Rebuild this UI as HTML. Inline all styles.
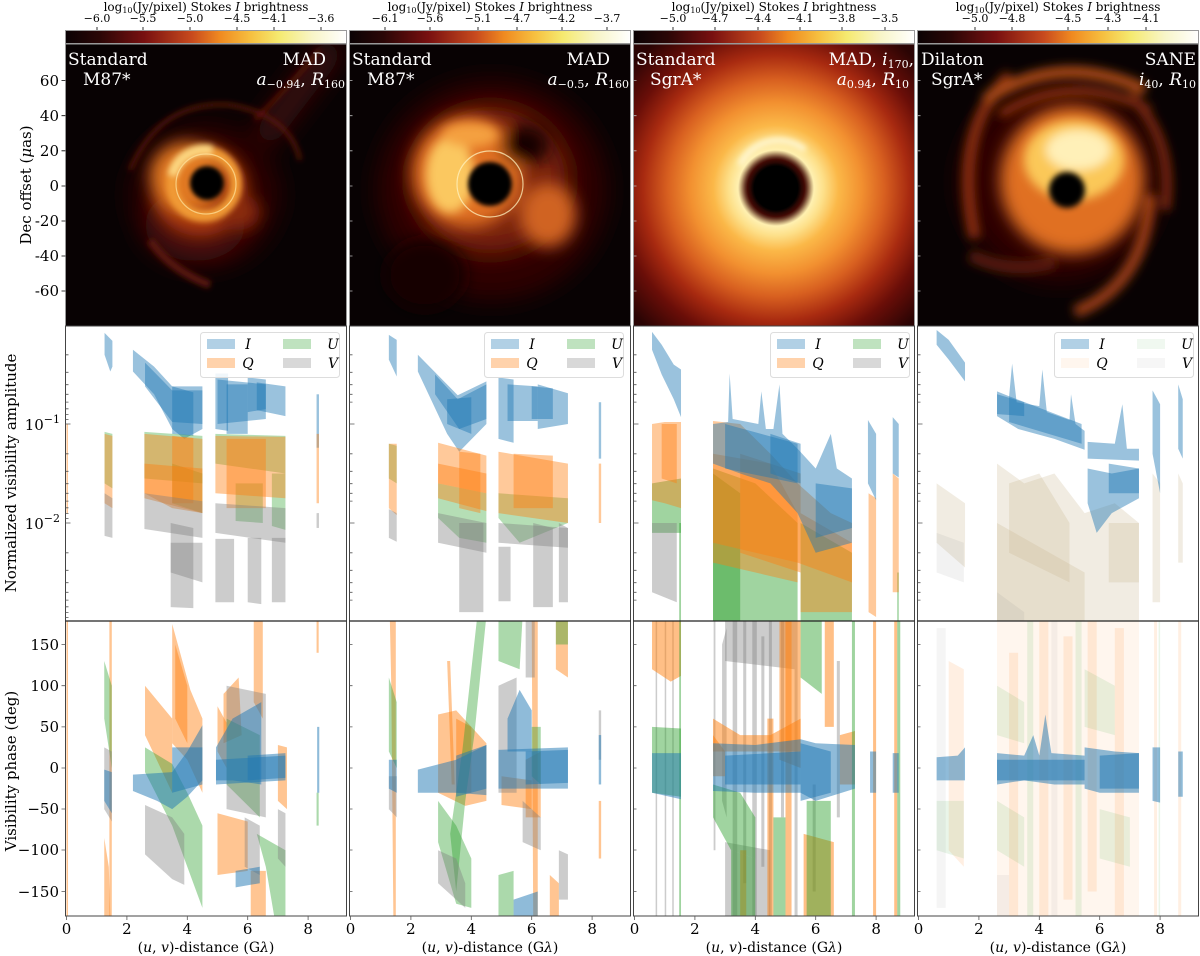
<!DOCTYPE html>
<html><head><meta charset="utf-8"><style>
html,body{margin:0;padding:0;background:#fff;}
svg{display:block;font-family:"DejaVu Serif","Liberation Serif",serif;}
</style></head><body>
<svg width="1200" height="956" viewBox="0 0 1200 956" xmlns="http://www.w3.org/2000/svg">
<defs>
<linearGradient id="cmap" x1="0" x2="1" y1="0" y2="0">
<stop offset="0" stop-color="#0a0204"/><stop offset="0.12" stop-color="#2a0606"/><stop offset="0.28" stop-color="#781010"/>
<stop offset="0.45" stop-color="#c84a1e"/><stop offset="0.55" stop-color="#f08a20"/><stop offset="0.66" stop-color="#f6c040"/>
<stop offset="0.76" stop-color="#f5ea70"/><stop offset="0.88" stop-color="#f8f5c8"/><stop offset="1" stop-color="#ffffff"/>
</linearGradient>
<radialGradient id="g3" gradientUnits="userSpaceOnUse" cx="776" cy="188" r="190">
<stop offset="0" stop-color="#000"/><stop offset="0.115" stop-color="#000"/><stop offset="0.15" stop-color="#4a0e06"/>
<stop offset="0.2" stop-color="#fff0b0"/><stop offset="0.25" stop-color="#fde08a"/><stop offset="0.33" stop-color="#fbb848"/>
<stop offset="0.45" stop-color="#f29030"/><stop offset="0.57" stop-color="#d86020"/><stop offset="0.7" stop-color="#a82a10"/>
<stop offset="0.83" stop-color="#6a0e08"/><stop offset="1" stop-color="#2a0404"/>
</radialGradient>
<filter id="b2" x="-50%" y="-50%" width="200%" height="200%"><feGaussianBlur stdDeviation="2"/></filter>
<filter id="b3" x="-50%" y="-50%" width="200%" height="200%"><feGaussianBlur stdDeviation="3"/></filter>
<filter id="b5" x="-50%" y="-50%" width="200%" height="200%"><feGaussianBlur stdDeviation="5"/></filter>
<filter id="b8" x="-50%" y="-50%" width="200%" height="200%"><feGaussianBlur stdDeviation="8"/></filter>
<filter id="b12" x="-50%" y="-50%" width="200%" height="200%"><feGaussianBlur stdDeviation="12"/></filter>
<clipPath id="ci1"><rect x="65.5" y="44" width="281" height="282"/></clipPath>
<clipPath id="ci2"><rect x="349.5" y="44" width="281" height="282"/></clipPath>
<clipPath id="ci3"><rect x="633.5" y="44" width="281" height="282"/></clipPath>
<clipPath id="ci4"><rect x="917.5" y="44" width="281" height="282"/></clipPath>
<clipPath id="ca1"><rect x="65.5" y="326" width="281" height="295"/></clipPath>
<clipPath id="ca2"><rect x="349.5" y="326" width="281" height="295"/></clipPath>
<clipPath id="ca3"><rect x="633.5" y="326" width="281" height="295"/></clipPath>
<clipPath id="ca4"><rect x="917.5" y="326" width="281" height="295"/></clipPath>
<clipPath id="cp1"><rect x="65.5" y="621" width="281" height="295"/></clipPath>
<clipPath id="cp2"><rect x="349.5" y="621" width="281" height="295"/></clipPath>
<clipPath id="cp3"><rect x="633.5" y="621" width="281" height="295"/></clipPath>
<clipPath id="cp4"><rect x="917.5" y="621" width="281" height="295"/></clipPath>
</defs>

<!-- ============ COLORBARS ============ -->
<g font-size="12" text-anchor="middle" fill="#000">
<text x="206" y="11">log<tspan font-size="8" dy="2">10</tspan><tspan dy="-2">(Jy/pixel) Stokes </tspan><tspan font-style="italic">I</tspan> brightness</text>
<text x="490" y="11">log<tspan font-size="8" dy="2">10</tspan><tspan dy="-2">(Jy/pixel) Stokes </tspan><tspan font-style="italic">I</tspan> brightness</text>
<text x="774" y="11">log<tspan font-size="8" dy="2">10</tspan><tspan dy="-2">(Jy/pixel) Stokes </tspan><tspan font-style="italic">I</tspan> brightness</text>
<text x="1058" y="11">log<tspan font-size="8" dy="2">10</tspan><tspan dy="-2">(Jy/pixel) Stokes </tspan><tspan font-style="italic">I</tspan> brightness</text>
</g>
<g font-size="11" text-anchor="middle" fill="#000">
<text x="97" y="22">−6.0</text><text x="143" y="22">−5.5</text><text x="190" y="22">−5.0</text><text x="237" y="22">−4.5</text><text x="274" y="22">−4.1</text><text x="321" y="22">−3.6</text>
<text x="385" y="22">−6.1</text><text x="430" y="22">−5.6</text><text x="478" y="22">−5.1</text><text x="517" y="22">−4.7</text><text x="562" y="22">−4.2</text><text x="607" y="22">−3.7</text>
<text x="673" y="22">−5.0</text><text x="715" y="22">−4.7</text><text x="758" y="22">−4.4</text><text x="800" y="22">−4.1</text><text x="842" y="22">−3.8</text><text x="885" y="22">−3.5</text>
<text x="975" y="22">−5.0</text><text x="1012" y="22">−4.8</text><text x="1068" y="22">−4.5</text><text x="1108" y="22">−4.3</text><text x="1146" y="22">−4.1</text>
</g>
<g stroke="#000" stroke-width="0.8">
<path d="M97,27V30M143,27V30M190,27V30M237,27V30M274,27V30M321,27V30M385,27V30M430,27V30M478,27V30M517,27V30M562,27V30M607,27V30M673,27V30M715,27V30M758,27V30M800,27V30M842,27V30M885,27V30M975,27V30M1012,27V30M1068,27V30M1108,27V30M1146,27V30"/>
</g>
<g stroke="#999" stroke-width="1" fill="url(#cmap)">
<rect x="65.5" y="30.5" width="281" height="13"/>
<rect x="349.5" y="30.5" width="281" height="13"/>
<rect x="633.5" y="30.5" width="281" height="13"/>
<rect x="917.5" y="30.5" width="281" height="13"/>
</g>

<!-- ============ IMAGE 1 ============ -->
<g clip-path="url(#ci1)">
<rect x="65.5" y="44" width="281" height="282" fill="#080203"/>
<g filter="url(#b12)">
<ellipse cx="205" cy="195" rx="75" ry="72" fill="#2a0605"/>
<path d="M262,140 Q300,90 335,45" stroke="#3a0a08" stroke-width="26" fill="none"/>
<ellipse cx="195" cy="225" rx="50" ry="36" fill="#4a1008"/>
</g>
<g filter="url(#b3)" fill="none">
<path d="M130,170 Q160,100 230,105 Q290,115 300,160" stroke="#5a1208" stroke-width="4"/>
<path d="M150,240 Q170,270 210,285" stroke="#5a180a" stroke-width="8"/>
<path d="M255,120 Q295,80 320,50" stroke="#6a160a" stroke-width="3"/>
</g>
<g filter="url(#b8)">
<ellipse cx="200" cy="190" rx="48" ry="46" fill="#a8380e"/>
<ellipse cx="186" cy="176" rx="36" ry="34" fill="#e07820"/>
<ellipse cx="238" cy="212" rx="22" ry="18" fill="#8a2a0e"/>
</g>
<g filter="url(#b3)">
<circle cx="204" cy="184" r="32" fill="none" stroke="#f09a34" stroke-width="12"/>
<path d="M172,175 A34,34 0 0,1 212,150" stroke="#fcd680" stroke-width="10" fill="none"/>
</g>
<circle cx="206" cy="184" r="30" fill="none" stroke="#ffe6a0" stroke-width="1.2" stroke-opacity="0.7"/>
<circle cx="207" cy="183" r="17" fill="#000" filter="url(#b2)"/>
</g>
<rect x="65.5" y="44" width="281" height="282" fill="none" stroke="#999"/>

<!-- ============ IMAGE 2 ============ -->
<g clip-path="url(#ci2)">
<rect x="349.5" y="44" width="281" height="282" fill="#080203"/>
<g filter="url(#b12)">
<ellipse cx="492" cy="190" rx="115" ry="110" fill="#2e0605"/>
<ellipse cx="490" cy="180" rx="75" ry="70" fill="#7a200b"/>
</g>
<g filter="url(#b8)">
<ellipse cx="468" cy="172" rx="55" ry="55" fill="#e07020"/>
<ellipse cx="548" cy="215" rx="28" ry="32" fill="#d06420"/>
<ellipse cx="525" cy="145" rx="24" ry="20" fill="#140303"/>
<ellipse cx="425" cy="275" rx="40" ry="35" fill="#140303"/>
</g>
<g filter="url(#b5)">
<ellipse cx="450" cy="175" rx="24" ry="38" fill="#fbc860"/>
<ellipse cx="470" cy="135" rx="28" ry="12" fill="#f4a040"/>
</g>
<circle cx="490" cy="184" r="33" fill="none" stroke="#fff3c0" stroke-width="1.2" stroke-opacity="0.75"/>
<circle cx="490" cy="184" r="22" fill="#000" filter="url(#b2)"/>
</g>
<rect x="349.5" y="44" width="281" height="282" fill="none" stroke="#999"/>

<!-- ============ IMAGE 3 ============ -->
<g clip-path="url(#ci3)">
<rect x="633.5" y="44" width="281" height="282" fill="url(#g3)"/>
<g filter="url(#b3)" fill="none">
<path d="M740,165 A42,42 0 0,1 805,150" stroke="#fff6d0" stroke-width="6"/>
<circle cx="776" cy="188" r="29" stroke="#2a0604" stroke-width="2"/>
</g>
</g>
<rect x="633.5" y="44" width="281" height="282" fill="none" stroke="#999"/>

<!-- ============ IMAGE 4 ============ -->
<g clip-path="url(#ci4)">
<rect x="917.5" y="44" width="281" height="282" fill="#080203"/>
<g filter="url(#b12)"><ellipse cx="1060" cy="182" rx="100" ry="100" fill="#2e0605"/></g>
<g filter="url(#b5)" fill="none">
<path d="M1010,75 Q952,130 975,238" stroke="#8a2e10" stroke-width="12"/>
<path d="M985,100 Q1060,50 1145,90" stroke="#a84a14" stroke-width="12"/>
<path d="M1000,115 Q1070,70 1150,110" stroke="#903410" stroke-width="8"/>
<path d="M1150,195 Q1145,285 1075,312" stroke="#9a3c12" stroke-width="12"/>
<path d="M970,255 Q1010,275 1055,262" stroke="#5a1a0c" stroke-width="12"/>
<path d="M1130,95 Q1175,140 1165,210" stroke="#7a2810" stroke-width="10"/>
</g>
<g filter="url(#b8)">
<ellipse cx="1072" cy="180" rx="72" ry="74" fill="#e07020"/>
</g>
<g filter="url(#b5)">
<ellipse cx="1074" cy="160" rx="50" ry="40" fill="#fbc858"/>
<ellipse cx="1078" cy="150" rx="32" ry="20" fill="#fff0b8"/>
</g>
<circle cx="1067" cy="190" r="18" fill="#000" filter="url(#b3)"/>
</g>
<rect x="917.5" y="44" width="281" height="282" fill="none" stroke="#999"/>

<!-- image overlay texts -->
<g fill="#fff" font-size="17">
<text x="68" y="65">Standard</text><text x="83" y="85">M87*</text>
<text x="326" y="65" text-anchor="end">MAD</text>
<text x="345" y="85" text-anchor="end"><tspan font-style="italic">a</tspan><tspan font-size="11" dy="3">−0.94</tspan><tspan dy="-3">, </tspan><tspan font-style="italic">R</tspan><tspan font-size="11" dy="3">160</tspan></text>
<text x="352" y="65">Standard</text><text x="367" y="85">M87*</text>
<text x="610" y="65" text-anchor="end">MAD</text>
<text x="629" y="85" text-anchor="end"><tspan font-style="italic">a</tspan><tspan font-size="11" dy="3">−0.5</tspan><tspan dy="-3">, </tspan><tspan font-style="italic">R</tspan><tspan font-size="11" dy="3">160</tspan></text>
<text x="636" y="65">Standard</text><text x="650" y="85">SgrA*</text>
<text x="914" y="65" text-anchor="end">MAD, <tspan font-style="italic">i</tspan><tspan font-size="11" dy="3">170</tspan><tspan dy="-3">,</tspan></text>
<text x="909" y="85" text-anchor="end"><tspan font-style="italic">a</tspan><tspan font-size="11" dy="3">0.94</tspan><tspan dy="-3">, </tspan><tspan font-style="italic">R</tspan><tspan font-size="11" dy="3">10</tspan></text>
<text x="921" y="65">Dilaton</text><text x="931" y="85">SgrA*</text>
<text x="1196" y="65" text-anchor="end">SANE</text>
<text x="1196" y="85" text-anchor="end"><tspan font-style="italic">i</tspan><tspan font-size="11" dy="3">40</tspan><tspan dy="-3">, </tspan><tspan font-style="italic">R</tspan><tspan font-size="11" dy="3">10</tspan></text>
</g>

<!-- image ticks -->
<g stroke="#000" stroke-width="0.8">
<path d="M61.5,80.5h4M61.5,115.7h4M61.5,150.8h4M61.5,186h4M61.5,221h4M61.5,256h4M61.5,291h4"/>
</g>
<g stroke="#bbb" stroke-width="0.8">
<path d="M349.5,80.5h3M349.5,115.7h3M349.5,150.8h3M349.5,186h3M349.5,221h3M349.5,256h3M349.5,291h3"/>
<path d="M633.5,80.5h3M633.5,115.7h3M633.5,150.8h3M633.5,186h3M633.5,221h3M633.5,256h3M633.5,291h3"/>
<path d="M917.5,80.5h3M917.5,115.7h3M917.5,150.8h3M917.5,186h3M917.5,221h3M917.5,256h3M917.5,291h3"/>
</g>
<g font-size="15" text-anchor="end" fill="#000">
<text x="59" y="86">60</text><text x="59" y="121">40</text><text x="59" y="156">20</text><text x="59" y="191">0</text>
<text x="59" y="226">-20</text><text x="59" y="261">-40</text><text x="59" y="296">-60</text>
</g>
<text transform="translate(31,185) rotate(-90)" font-size="15" text-anchor="middle">Dec offset (<tspan font-style="italic">μ</tspan>as)</text>

<!-- ============ AMPLITUDE PANELS ============ -->
<!-- col1 -->
<g clip-path="url(#ca1)"><g transform="translate(66.5,325) scale(30.2,-99)">
<g fill="#1f77b4" fill-opacity="0.45">
<polygon points="1.26,-0.08 1.52,-0.16 1.52,-0.42 1.45,-0.47 1.26,-0.3"/>
<polygon points="2.2,-0.25 2.9,-0.42 3.5,-0.62 4.5,-0.62 4.5,-1.05 3.9,-1.15 3.5,-1.05 2.9,-0.7 2.2,-0.47"/>
<polygon points="2.6,-0.38 3.5,-0.66 4.5,-0.66 4.5,-1.0 3.5,-0.98 2.6,-0.62"/>
<polygon points="3.5,-0.62 4.2,-0.68 4.2,-1.12 3.5,-1.1"/>
<polygon points="4.93,-0.49 5.35,-0.49 5.35,-1.07 4.93,-1.05"/>
<polygon points="5.3,-0.6 6.0,-0.6 6.0,-1.1 5.3,-1.1"/>
<polygon points="6.0,-0.53 6.6,-0.55 6.6,-0.85 6.0,-0.88"/>
<polygon points="6.3,-0.58 7.25,-0.62 7.25,-0.92 6.3,-0.86"/>
<polygon points="5.0,-0.55 6.6,-0.6 6.6,-0.95 5.0,-1.0"/>
<polygon points="8.28,-0.7 8.36,-0.7 8.36,-1.24 8.28,-1.24"/>
</g>
<g fill="#2ca02c" fill-opacity="0.35">
<polygon points="1.26,-1.08 1.52,-1.1 1.52,-1.65 1.26,-1.6"/>
<polygon points="2.58,-1.08 4.5,-1.12 4.5,-1.6 2.58,-1.55"/>
<polygon points="3.5,-1.4 4.5,-1.5 4.5,-1.9 3.5,-1.8"/>
<polygon points="4.93,-1.1 7.25,-1.12 7.25,-1.5 4.93,-1.4"/>
<polygon points="5.6,-1.6 6.5,-1.6 6.5,-2.0 5.6,-1.98"/>
<polygon points="6.8,-1.5 7.25,-1.5 7.25,-2.07 6.8,-2.03"/>
</g>
<g fill="#ff7f0e" fill-opacity="0.42">
<polygon points="0,-1.0 0.05,-1.0 0.05,-1.9 0,-1.9"/>
<polygon points="1.26,-1.1 1.52,-1.12 1.52,-1.85 1.26,-1.8"/>
<polygon points="2.58,-1.1 4.5,-1.15 4.5,-1.9 3.5,-1.85 2.58,-1.7"/>
<polygon points="2.58,-1.4 4.5,-1.45 4.5,-1.9 2.58,-1.75"/>
<polygon points="3.5,-1.12 4.2,-1.14 4.2,-1.8 3.5,-1.8"/>
<polygon points="4.93,-1.12 7.25,-1.13 7.25,-1.75 4.93,-1.7"/>
<polygon points="5.3,-1.15 6.6,-1.15 6.6,-1.85 5.3,-1.85"/>
<polygon points="8.28,-1.1 8.36,-1.1 8.36,-1.8 8.28,-1.8"/>
</g>
<g fill="#7f7f7f" fill-opacity="0.4">
<polygon points="1.26,-1.7 1.52,-1.75 1.52,-2.15 1.26,-2.13"/>
<polygon points="2.58,-1.7 4.5,-1.78 4.5,-2.15 2.58,-2.06"/>
<polygon points="3.45,-2.0 4.2,-2.05 4.2,-2.86 3.45,-2.85"/>
<polygon points="3.45,-2.2 4.5,-2.2 4.5,-2.6 3.45,-2.5"/>
<polygon points="4.93,-1.8 7.25,-1.85 7.25,-2.2 4.93,-2.1"/>
<polygon points="4.93,-2.16 5.55,-2.16 5.55,-2.8 4.93,-2.8"/>
<polygon points="6.0,-2.15 6.45,-2.15 6.45,-2.82 6.0,-2.8"/>
<polygon points="6.8,-2.15 7.25,-2.15 7.25,-2.8 6.8,-2.8"/>
<polygon points="8.28,-1.9 8.36,-1.9 8.36,-2.05 8.28,-2.05"/>
</g>
</g></g>

<!-- col2 -->
<g clip-path="url(#ca2)"><g transform="translate(350.5,325) scale(30.2,-99)">
<g fill="#1f77b4" fill-opacity="0.45">
<polygon points="1.27,-0.1 1.53,-0.15 1.53,-0.52 1.27,-0.35"/>
<polygon points="2.23,-0.3 3.55,-0.71 4.5,-0.57 4.5,-1.0 3.6,-1.28 3.2,-1.1 2.23,-0.47"/>
<polygon points="2.8,-0.5 3.55,-0.75 4.5,-0.6 4.5,-0.95 3.6,-1.05 2.8,-0.7"/>
<polygon points="3.2,-0.75 4.0,-0.73 4.0,-1.1 3.2,-1.0"/>
<polygon points="4.9,-0.53 5.4,-0.55 5.4,-1.19 4.9,-1.15"/>
<polygon points="5.2,-0.6 6.2,-0.62 6.2,-0.97 5.2,-0.97"/>
<polygon points="6.2,-0.6 7.2,-0.69 7.2,-1.0 6.2,-1.05"/>
<polygon points="6.0,-0.62 6.7,-0.64 6.7,-0.95 6.0,-0.95"/>
<polygon points="8.22,-0.78 8.3,-0.78 8.3,-1.35 8.22,-1.35"/>
</g>
<g fill="#2ca02c" fill-opacity="0.35">
<polygon points="1.27,-1.2 1.53,-1.22 1.53,-1.6 1.27,-1.55"/>
<polygon points="2.9,-1.6 4.5,-1.7 4.5,-2.2 3.6,-2.15 2.9,-1.95"/>
<polygon points="4.9,-1.7 7.2,-1.75 7.2,-2.0 5.6,-2.2 4.9,-1.95"/>
</g>
<g fill="#ff7f0e" fill-opacity="0.42">
<polygon points="1.27,-1.2 1.53,-1.2 1.53,-1.92 1.27,-1.85"/>
<polygon points="2.9,-1.19 4.5,-1.32 4.5,-1.88 2.9,-1.75"/>
<polygon points="3.6,-1.28 4.3,-1.3 4.3,-1.9 3.6,-1.85"/>
<polygon points="2.9,-1.4 4.5,-1.5 4.5,-1.7 2.9,-1.6"/>
<polygon points="4.9,-1.28 7.2,-1.40 7.2,-2.0 4.9,-1.9"/>
<polygon points="5.4,-1.3 6.7,-1.32 6.7,-1.85 5.4,-1.85"/>
<polygon points="8.22,-1.4 8.3,-1.4 8.3,-2.0 8.22,-2.0"/>
</g>
<g fill="#7f7f7f" fill-opacity="0.4">
<polygon points="1.27,-1.86 1.53,-1.9 1.53,-2.19 1.27,-2.15"/>
<polygon points="2.9,-1.9 4.5,-2.0 4.5,-2.3 2.9,-2.2"/>
<polygon points="3.6,-2.0 4.4,-2.0 4.4,-2.9 3.6,-2.9"/>
<polygon points="4.9,-2.24 5.3,-2.24 5.3,-2.79 4.9,-2.79"/>
<polygon points="6.05,-2.0 6.7,-2.05 6.7,-2.85 6.05,-2.85"/>
<polygon points="6.9,-2.0 7.2,-2.05 7.2,-2.8 6.9,-2.8"/>
<polygon points="4.9,-2.0 7.2,-2.05 7.2,-2.25 4.9,-2.2"/>
</g>
</g></g>

<!-- col3 -->
<g clip-path="url(#ca3)"><g transform="translate(634.5,325) scale(30.2,-99)">
<g fill="#1f77b4" fill-opacity="0.45">
<polygon points="0.58,-0.07 0.9,-0.2 1.3,-0.4 1.54,-0.45 1.54,-0.93 1.3,-0.75 0.9,-0.5 0.58,-0.25"/>
</g>
<g fill="#2ca02c" fill-opacity="0.45">
<polygon points="0.58,-1.6 1.54,-1.55 1.54,-2.1 0.58,-2.1"/>
<polygon points="1.48,-2.0 1.54,-2.0 1.54,-3.1 1.48,-3.1"/>
<polygon points="2.6,-1.45 4.0,-1.6 5.4,-2.0 5.4,-3.1 2.6,-3.1"/>
<polygon points="2.6,-1.5 3.5,-1.7 3.5,-3.1 2.6,-3.1"/>
<polygon points="5.5,-2.0 7.2,-2.3 7.2,-3.1 5.5,-3.1"/>
<polygon points="8.7,-2.5 8.75,-2.5 8.75,-3.1 8.7,-3.1"/>
</g>
<g fill="#ff7f0e" fill-opacity="0.42">
<polygon points="0.58,-1.0 1.0,-0.98 1.54,-0.98 1.54,-1.85 1.0,-1.8 0.58,-1.77"/>
<polygon points="0.9,-1.0 1.4,-1.0 1.4,-1.6 0.9,-1.55"/>
<polygon points="2.6,-0.97 3.5,-1.0 4.5,-1.3 5.4,-1.6 6.5,-1.9 7.2,-2.0 7.2,-2.6 5.4,-2.4 2.6,-2.2"/>
<polygon points="2.6,-1.3 4.5,-1.4 5.4,-1.9 5.4,-2.6 2.6,-2.4"/>
<polygon points="3.5,-1.3 5.5,-1.5 5.5,-2.5 3.5,-2.3"/>
<polygon points="5.5,-1.9 7.2,-2.2 7.2,-2.9 5.5,-2.9"/>
<polygon points="7.75,-1.7 8.0,-1.75 8.0,-2.95 7.75,-2.9"/>
<polygon points="8.55,-1.5 8.75,-1.55 8.75,-2.7 8.55,-2.7"/>
</g>
<g fill="#1f77b4" fill-opacity="0.45">
<polygon points="2.6,-1.0 3.1,-0.98 3.15,-0.49 3.25,-0.95 4.1,-1.0 4.2,-0.67 4.35,-1.05 4.6,-1.05 4.8,-0.6 4.9,-1.1 5.4,-1.25 6.0,-1.45 6.5,-1.1 6.7,-1.45 7.2,-1.55 7.2,-2.2 6.0,-2.3 5.4,-1.9 4.5,-1.6 3.5,-1.5 2.6,-1.4"/>
<polygon points="3.0,-1.0 5.4,-1.2 5.4,-1.6 3.0,-1.45"/>
<polygon points="4.5,-1.1 5.5,-1.2 5.5,-1.6 4.5,-1.5"/>
<polygon points="6.0,-1.6 7.2,-1.65 7.2,-2.05 6.0,-2.15"/>
<polygon points="7.73,-0.96 8.0,-1.1 8.0,-1.77 7.73,-1.6"/>
<polygon points="8.55,-0.93 8.75,-1.0 8.75,-1.54 8.55,-1.5"/>
</g>
<g fill="#7f7f7f" fill-opacity="0.4">
<polygon points="0.58,-2.0 1.4,-2.0 1.4,-2.8 0.58,-2.7"/>
</g>
</g></g>

<!-- col4 -->
<g clip-path="url(#ca4)"><g transform="translate(918.5,325) scale(30.2,-99)">
<g fill="#c8b48a" fill-opacity="0.25">
<polygon points="0.6,-1.6 1.54,-1.8 1.54,-2.45 0.6,-2.2"/>
<polygon points="2.6,-1.4 3.5,-1.6 4.5,-1.5 5.5,-1.9 6.5,-1.8 7.3,-2.0 7.3,-3.1 2.6,-3.1"/>
<polygon points="2.6,-2.0 5.5,-2.5 5.5,-3.1 2.6,-3.1"/>
<polygon points="3.0,-1.6 4.0,-1.5 5.0,-2.0 5.0,-2.6 3.0,-2.3"/>
<polygon points="6.3,-2.0 7.3,-2.0 7.3,-2.6 6.3,-2.6"/>
<polygon points="7.75,-1.5 8.0,-1.6 8.0,-2.8 7.75,-2.8"/>
<polygon points="8.6,-1.5 8.75,-1.6 8.75,-2.4 8.6,-2.4"/>
</g>
<g fill="#7f7f7f" fill-opacity="0.1">
<polygon points="0.6,-2.1 1.5,-2.2 1.5,-2.6 0.6,-2.5"/>
<polygon points="2.6,-2.7 3.5,-2.9 3.5,-3.1 2.6,-3.1"/>
</g>
<g fill="#1f77b4" fill-opacity="0.45">
<polygon points="0.6,-0.05 1.0,-0.15 1.54,-0.38 1.54,-0.57 1.0,-0.35 0.6,-0.2"/>
<polygon points="2.6,-0.67 3.0,-0.72 3.1,-0.39 3.25,-0.78 4.0,-0.82 4.1,-0.45 4.25,-0.88 5.0,-0.96 5.05,-0.7 5.2,-1.0 5.5,-1.07 5.5,-1.26 4.5,-1.15 3.3,-1.05 2.6,-0.92"/>
<polygon points="3.0,-0.72 5.4,-1.0 5.4,-1.2 3.0,-0.98"/>
<polygon points="2.6,-0.7 3.5,-0.78 3.5,-0.92 2.6,-0.9"/>
<polygon points="5.6,-1.18 6.5,-1.2 6.75,-0.8 6.9,-1.25 7.3,-1.25 7.3,-1.37 5.6,-1.35"/>
<polygon points="5.6,-1.45 6.4,-1.5 7.3,-1.45 7.3,-1.75 6.4,-1.9 5.9,-2.1 5.6,-1.8"/>
<polygon points="6.3,-1.4 7.3,-1.45 7.3,-1.7 6.3,-1.7"/>
<polygon points="7.75,-0.66 8.0,-0.8 8.0,-1.7 7.75,-1.3"/>
<polygon points="8.6,-0.6 8.75,-0.75 8.75,-1.35 8.6,-1.25"/>
</g>
</g></g>

<!-- ============ PHASE PANELS ============ -->
<!-- col1 -->
<g clip-path="url(#cp1)"><g transform="translate(66.5,768) scale(30.2,-0.823)">
<g fill="#ff7f0e" fill-opacity="0.45">
<polygon points="0,-180 0.05,-180 0.05,180 0,180"/>
<polygon points="1.42,180 1.5,180 1.5,-180 1.42,-180"/>
<polygon points="1.25,-85 1.4,-120 1.45,-180 1.25,-180"/>
<polygon points="2.6,100 3.5,60 3.5,-30 2.6,40"/>
<polygon points="3.5,175 4.1,95 4.5,60 4.5,-30 4.0,10 3.5,30"/>
<polygon points="3.6,150 4.0,100 4.0,30 3.6,60"/>
<polygon points="5.0,75 5.3,55 5.3,0 5.0,20"/>
<polygon points="5.2,90 5.7,110 5.8,40 5.2,30"/>
<polygon points="6.2,180 6.5,180 6.5,60 6.2,80"/>
<polygon points="5.0,-55 6.0,-65 6.0,-125 5.0,-130"/>
<polygon points="6.1,-125 6.6,-125 6.6,-185 6.1,-185"/>
<polygon points="7.0,28 7.3,25 7.3,-50 7.0,-40"/>
<polygon points="8.28,180 8.35,180 8.35,140 8.28,140"/>
</g>
<g fill="#2ca02c" fill-opacity="0.4">
<polygon points="1.25,130 1.5,100 1.5,0 1.25,60"/>
<polygon points="2.6,25 3.5,5 4.0,-30 4.5,-70 4.5,-170 4.0,-120 3.5,-70 2.6,-5"/>
<polygon points="5.3,60 6.4,40 6.4,-60 5.3,-20"/>
<polygon points="6.3,-80 7.25,-100 7.25,-185 6.9,-185 6.6,-120"/>
<polygon points="8.28,-30 8.35,-30 8.35,-70 8.28,-70"/>
</g>
<g fill="#7f7f7f" fill-opacity="0.4">
<polygon points="1.25,25 1.5,20 1.5,-65 1.25,-50"/>
<polygon points="2.6,-45 3.5,-60 3.9,-80 3.9,-142 3.5,-135 2.6,-105"/>
<polygon points="5.3,100 6.6,90 6.6,-60 5.3,-50"/>
<polygon points="7.0,-50 7.25,-55 7.25,-120 7.0,-110"/>
<polygon points="5.9,-60 6.4,-70 6.4,-130 5.9,-120"/>
</g>
<g fill="#1f77b4" fill-opacity="0.5">
<polygon points="1.25,-2 1.5,-5 1.5,-55 1.25,-40"/>
<polygon points="2.2,-8 3.5,-5 4.0,20 4.5,52 4.5,-15 4.0,-35 3.5,-50 3.0,-40 2.2,-28"/>
<polygon points="3.5,25 4.5,25 4.5,-20 3.5,-30"/>
<polygon points="4.95,25 5.5,60 6.45,80 6.45,-20 5.5,-15 4.95,-15"/>
<polygon points="4.95,10 7.25,15 7.25,-15 4.95,-20"/>
<polygon points="6.0,15 7.25,18 7.25,-12 6.0,-15"/>
<polygon points="5.6,-125 6.4,-120 6.4,-140 5.6,-145"/>
<polygon points="8.3,50 8.37,50 8.37,-30 8.3,-30"/>
</g>
</g></g>

<!-- col2 -->
<g clip-path="url(#cp2)"><g transform="translate(350.5,768) scale(30.2,-0.823)">
<g fill="#ff7f0e" fill-opacity="0.45">
<polygon points="1.3,185 1.5,185 1.5,-185 1.42,-185 1.35,100"/>
<polygon points="2.9,65 3.5,70 4.5,30 4.5,-40 3.8,-46 2.9,-30"/>
<polygon points="3.2,130 3.35,-20 3.45,-20 3.3,130"/>
<polygon points="3.5,60 4.0,50 4.0,-30 3.5,-30"/>
<polygon points="5.0,-10 6.0,-15 6.0,-50 5.0,-45"/>
<polygon points="5.8,10 6.3,20 6.3,-60 5.8,-60"/>
<polygon points="6.0,185 6.2,185 6.2,-185 6.05,-185"/>
<polygon points="6.8,185 7.2,185 7.2,110 6.8,120"/>
<polygon points="6.6,-130 6.9,-140 6.9,-185 6.6,-185"/>
<polygon points="8.22,-40 8.3,-40 8.3,-110 8.22,-110"/>
</g>
<g fill="#2ca02c" fill-opacity="0.4">
<polygon points="1.27,110 1.53,80 1.53,0 1.27,20"/>
<polygon points="4.2,185 4.5,185 4.1,40 3.8,-40 3.5,-150 3.3,-80 3.7,20"/>
<polygon points="2.9,-40 3.5,-70 4.0,-110 4.0,-170 3.5,-165 2.9,-90"/>
<polygon points="4.9,185 5.7,185 5.6,120 4.9,130"/>
<polygon points="4.9,-130 5.4,-125 5.4,-185 4.9,-185"/>
<polygon points="6.0,50 6.3,50 6.3,-20 6.0,-10"/>
<polygon points="6.8,185 7.2,185 7.2,150 6.8,150"/>
</g>
<g fill="#7f7f7f" fill-opacity="0.4">
<polygon points="1.27,-10 1.53,-10 1.53,-60 1.27,-50"/>
<polygon points="2.9,-100 3.5,-110 3.8,-140 3.8,-170 3.5,-160 2.9,-140"/>
<polygon points="4.9,100 5.5,110 5.5,-30 4.9,-30"/>
<polygon points="5.8,185 6.1,185 6.1,110 5.8,110"/>
<polygon points="5.7,-40 6.3,-60 6.3,-100 5.7,-90"/>
<polygon points="6.9,-100 7.2,-105 7.2,-160 6.9,-160"/>
<polygon points="8.22,70 8.3,70 8.3,10 8.22,10"/>
</g>
<g fill="#1f77b4" fill-opacity="0.5">
<polygon points="1.27,10 1.53,10 1.53,-30 1.27,-25"/>
<polygon points="2.23,-2 3.5,10 4.5,28 4.5,-33 3.5,-30 2.23,-30"/>
<polygon points="3.5,15 4.5,28 4.5,-25 3.5,-35"/>
<polygon points="4.9,22 7.2,25 7.2,-25 4.9,-25"/>
<polygon points="5.2,60 5.6,95 6.0,70 6.0,20 5.2,20"/>
<polygon points="5.8,20 7.2,22 7.2,-18 5.8,-20"/>
<polygon points="5.4,-160 6.2,-150 6.2,-185 5.4,-185"/>
<polygon points="8.22,40 8.3,40 8.3,-20 8.22,-20"/>
</g>
</g></g>

<!-- col3 -->
<g clip-path="url(#cp3)"><g transform="translate(634.5,768) scale(30.2,-0.823)">
<g fill="#7f7f7f" fill-opacity="0.4">
<polygon points="0.7,185 0.75,185 0.75,-185 0.7,-185"/>
<polygon points="1.0,185 1.05,185 1.05,-185 1.0,-185"/>
<polygon points="1.25,185 1.3,185 1.3,-185 1.25,-185"/>
<polygon points="2.62,185 2.68,185 2.68,-100 2.62,-100"/>
<polygon points="2.9,150 3.05,170 3.05,-60 2.9,-40"/>
<polygon points="3.25,185 3.4,185 3.4,-185 3.25,-185"/>
<polygon points="3.6,185 3.7,185 3.7,-140 3.6,-140"/>
<polygon points="3.9,185 4.05,185 4.05,-185 3.9,-185"/>
<polygon points="4.2,160 4.3,160 4.3,-120 4.2,-120"/>
<polygon points="4.45,185 4.55,185 4.55,-185 4.45,-185"/>
<polygon points="4.85,185 4.95,185 4.95,-60 4.85,-60"/>
<polygon points="5.3,185 5.4,185 5.4,-185 5.3,-185"/>
<polygon points="3.0,185 5.3,185 5.3,120 3.0,130"/>
<polygon points="3.0,-90 4.5,-100 4.5,-185 3.0,-185"/>
<polygon points="5.9,-20 6.0,-20 6.0,-150 5.9,-150"/>
<polygon points="6.7,130 6.8,130 6.8,-60 6.7,-60"/>
</g>
<g fill="#ff7f0e" fill-opacity="0.5">
<polygon points="0.58,185 1.54,185 1.54,112 1.2,105 0.58,120"/>
<polygon points="2.6,60 3.5,40 4.5,40 5.5,60 5.5,20 2.6,20"/>
<polygon points="2.6,40 3.0,20 3.0,-10 2.6,-10"/>
<polygon points="4.8,185 5.5,185 5.5,0 4.8,10"/>
<polygon points="5.0,185 5.2,185 5.2,-185 5.0,-185"/>
<polygon points="4.4,60 4.6,60 4.6,-185 4.4,-185"/>
<polygon points="3.5,-100 3.7,-100 3.7,-185 3.5,-185"/>
<polygon points="5.6,-80 6.6,-90 6.6,-185 5.6,-185"/>
<polygon points="6.3,185 6.6,185 6.6,50 6.3,50"/>
<polygon points="6.8,40 7.3,45 7.3,-20 6.8,-20"/>
<polygon points="7.9,185 8.0,185 8.0,-185 7.9,-185"/>
<polygon points="8.6,185 8.7,185 8.7,-185 8.6,-185"/>
</g>
<g fill="#2ca02c" fill-opacity="0.45">
<polygon points="0.58,50 1.54,48 1.54,-35 0.58,-30"/>
<polygon points="1.48,185 1.54,185 1.54,-185 1.48,-185"/>
<polygon points="2.6,-20 3.5,-30 4.0,-60 4.0,-110 3.2,-100 2.6,-60"/>
<polygon points="3.2,-100 4.0,-110 4.0,-185 3.2,-185"/>
<polygon points="5.5,185 6.2,185 6.2,90 5.5,110"/>
<polygon points="5.7,-40 6.5,-40 6.5,-185 5.7,-185"/>
<polygon points="4.6,-60 5.0,-60 5.0,-185 4.6,-185"/>
<polygon points="7.2,185 7.3,185 7.3,-185 7.2,-185"/>
<polygon points="8.7,185 8.8,185 8.8,-185 8.7,-185"/>
</g>
<g fill="#1f77b4" fill-opacity="0.5">
<polygon points="0.58,18 1.54,18 1.54,-38 0.58,-30"/>
<polygon points="2.6,30 4.0,28 5.5,35 6.0,30 7.3,28 7.3,-25 6.0,-40 5.5,-30 4.0,-30 2.6,-28"/>
<polygon points="3.0,15 5.5,20 5.5,-20 3.0,-20"/>
<polygon points="5.5,30 6.5,20 6.5,-30 5.5,-40"/>
<polygon points="7.8,20 8.0,20 8.0,-30 7.8,-30"/>
<polygon points="8.55,18 8.75,18 8.75,-30 8.55,-30"/>
</g>
</g></g>

<!-- col4 -->
<g clip-path="url(#cp4)"><g transform="translate(918.5,768) scale(30.2,-0.823)">
<g fill="#ff7f0e" fill-opacity="0.07">
<polygon points="2.6,185 7.3,185 7.3,-185 2.6,-185"/>
</g>
<g fill="#ff7f0e" fill-opacity="0.12">
<polygon points="1.0,130 1.5,120 1.5,-120 1.0,-100"/>
<polygon points="3.0,140 3.3,140 3.3,-180 3.0,-180"/>
<polygon points="4.0,185 4.3,185 4.3,-185 4.0,-185"/>
<polygon points="4.8,160 5.1,160 5.1,-160 4.8,-160"/>
<polygon points="5.6,185 5.9,185 5.9,-150 5.6,-150"/>
<polygon points="6.5,170 6.8,170 6.8,-185 6.5,-185"/>
<polygon points="7.8,185 7.9,185 7.9,-185 7.8,-185"/>
<polygon points="8.6,185 8.7,185 8.7,-185 8.6,-185"/>
</g>
<g fill="#2ca02c" fill-opacity="0.1">
<polygon points="2.6,100 3.5,80 3.5,30 2.6,40"/>
<polygon points="2.6,-40 3.5,-60 3.5,-120 2.6,-100"/>
<polygon points="5.5,120 6.5,100 6.5,40 5.5,50"/>
<polygon points="6.0,-50 7.0,-60 7.0,-120 6.0,-110"/>
<polygon points="0.6,-40 1.5,-40 1.5,-110 0.6,-100"/>
<polygon points="3.6,185 3.8,185 3.8,-185 3.6,-185"/>
<polygon points="5.2,185 5.4,185 5.4,-185 5.2,-185"/>
<polygon points="7.95,185 8.0,185 8.0,-185 7.95,-185"/>
</g>
<g fill="#7f7f7f" fill-opacity="0.08">
<polygon points="0.6,170 0.9,170 0.9,-170 0.6,-170"/>
<polygon points="2.6,-130 3.0,-130 3.0,-185 2.6,-185"/>
<polygon points="4.4,185 4.6,185 4.6,-185 4.4,-185"/>
</g>
<g fill="#1f77b4" fill-opacity="0.5">
<polygon points="0.6,13 1.3,15 1.54,25 1.54,-15 0.6,-15"/>
<polygon points="2.6,18 3.5,15 3.8,40 4.0,15 4.2,65 4.4,18 5.5,15 5.5,-20 4.5,-20 3.5,-15 2.6,-20"/>
<polygon points="2.6,10 5.5,10 5.5,-15 2.6,-15"/>
<polygon points="5.5,25 6.5,20 7.3,18 7.3,-30 6.0,-30 5.5,-25"/>
<polygon points="6.0,15 7.3,18 7.3,-25 6.0,-25"/>
<polygon points="7.75,25 8.0,25 8.0,-42 7.75,-40"/>
<polygon points="8.6,20 8.75,20 8.75,-35 8.6,-35"/>
</g>
</g></g>

<!-- ============ FRAMES ============ -->
<g fill="none" stroke="#444" stroke-width="1">
<rect x="65.5" y="326" width="281" height="590"/>
<rect x="349.5" y="326" width="281" height="590"/>
<rect x="633.5" y="326" width="281" height="590"/>
<rect x="917.5" y="326" width="281" height="590"/>
</g>
<g stroke="#222" stroke-width="1.2">
<path d="M65.5,621h281M349.5,621h281M633.5,621h281M917.5,621h281"/>
</g>

<!-- ticks -->
<g stroke="#555" stroke-width="0.8">
<path d="M65.5,424h5M65.5,523h5M349.5,424h5M349.5,523h5M633.5,424h5M633.5,523h5M917.5,424h5M917.5,523h5"/>
<path d="M65.5,354.8h3M65.5,372.3h3M65.5,384.7h3M65.5,394.3h3M65.5,402.1h3M65.5,408.8h3M65.5,414.5h3M65.5,419.5h3M65.5,453.8h3M65.5,471.3h3M65.5,483.7h3M65.5,493.3h3M65.5,501.1h3M65.5,507.8h3M65.5,513.5h3M65.5,518.5h3M65.5,552.8h3M65.5,570.3h3M65.5,582.7h3M65.5,592.3h3M65.5,600.1h3M65.5,606.8h3M65.5,612.5h3M65.5,617.5h3"/>
<path d="M349.5,354.8h3M349.5,372.3h3M349.5,384.7h3M349.5,394.3h3M349.5,402.1h3M349.5,453.8h3M349.5,471.3h3M349.5,483.7h3M349.5,493.3h3M349.5,501.1h3M349.5,552.8h3M349.5,570.3h3M349.5,582.7h3M349.5,592.3h3M349.5,600.1h3"/>
<path d="M633.5,354.8h3M633.5,372.3h3M633.5,384.7h3M633.5,394.3h3M633.5,402.1h3M633.5,453.8h3M633.5,471.3h3M633.5,483.7h3M633.5,493.3h3M633.5,501.1h3M633.5,552.8h3M633.5,570.3h3M633.5,582.7h3M633.5,592.3h3M633.5,600.1h3"/>
<path d="M917.5,354.8h3M917.5,372.3h3M917.5,384.7h3M917.5,394.3h3M917.5,402.1h3M917.5,453.8h3M917.5,471.3h3M917.5,483.7h3M917.5,493.3h3M917.5,501.1h3M917.5,552.8h3M917.5,570.3h3M917.5,582.7h3M917.5,592.3h3M917.5,600.1h3"/>
<path d="M61.5,644.5h4M61.5,685.7h4M61.5,726.9h4M61.5,768h4M61.5,809h4M61.5,850h4M61.5,891.5h4"/>
<path d="M349.5,644.5h3M349.5,685.7h3M349.5,726.9h3M349.5,768h3M349.5,809h3M349.5,850h3M349.5,891.5h3"/>
<path d="M633.5,644.5h3M633.5,685.7h3M633.5,726.9h3M633.5,768h3M633.5,809h3M633.5,850h3M633.5,891.5h3"/>
<path d="M917.5,644.5h3M917.5,685.7h3M917.5,726.9h3M917.5,768h3M917.5,809h3M917.5,850h3M917.5,891.5h3"/>
<path d="M66.5,916v4M126.9,916v4M187.3,916v4M247.7,916v4M308.1,916v4"/>
<path d="M350.5,916v4M410.9,916v4M471.3,916v4M531.7,916v4M592.1,916v4"/>
<path d="M634.5,916v4M694.9,916v4M755.3,916v4M815.7,916v4M876.1,916v4"/>
<path d="M918.5,916v4M978.9,916v4M1039.3,916v4M1099.7,916v4M1160.1,916v4"/>
</g>

<!-- legends -->
<g>
<rect x="200.5" y="332.5" width="139" height="45" rx="3" fill="#fff" fill-opacity="0.85" stroke="#ddd"/>
<rect x="484.5" y="332.5" width="139" height="45" rx="3" fill="#fff" fill-opacity="0.85" stroke="#ddd"/>
<rect x="770.5" y="332.5" width="139" height="45" rx="3" fill="#fff" fill-opacity="0.85" stroke="#ddd"/>
<rect x="1054.5" y="332.5" width="139" height="45" rx="3" fill="#fff" fill-opacity="0.85" stroke="#ddd"/>
</g>
<g>
<rect x="207" y="339" width="28" height="10" fill="#1f77b4" fill-opacity="0.35"/>
<rect x="207" y="358" width="28" height="10" fill="#ff7f0e" fill-opacity="0.35"/>
<rect x="283" y="339" width="28" height="10" fill="#2ca02c" fill-opacity="0.3"/>
<rect x="283" y="358" width="28" height="10" fill="#7f7f7f" fill-opacity="0.3"/>
<rect x="491" y="339" width="28" height="10" fill="#1f77b4" fill-opacity="0.35"/>
<rect x="491" y="358" width="28" height="10" fill="#ff7f0e" fill-opacity="0.35"/>
<rect x="567" y="339" width="28" height="10" fill="#2ca02c" fill-opacity="0.3"/>
<rect x="567" y="358" width="28" height="10" fill="#7f7f7f" fill-opacity="0.3"/>
<rect x="777" y="339" width="28" height="10" fill="#1f77b4" fill-opacity="0.35"/>
<rect x="777" y="358" width="28" height="10" fill="#ff7f0e" fill-opacity="0.35"/>
<rect x="853" y="339" width="28" height="10" fill="#2ca02c" fill-opacity="0.3"/>
<rect x="853" y="358" width="28" height="10" fill="#7f7f7f" fill-opacity="0.3"/>
<rect x="1061" y="339" width="28" height="10" fill="#1f77b4" fill-opacity="0.35"/>
<rect x="1061" y="358" width="28" height="10" fill="#ff7f0e" fill-opacity="0.07"/>
<rect x="1137" y="339" width="28" height="10" fill="#2ca02c" fill-opacity="0.07"/>
<rect x="1137" y="358" width="28" height="10" fill="#7f7f7f" fill-opacity="0.07"/>
</g>
<g font-size="14" font-style="italic" text-anchor="middle" fill="#000">
<text x="248" y="349">I</text><text x="248" y="368">Q</text><text x="333" y="349">U</text><text x="333" y="368">V</text>
<text x="532" y="349">I</text><text x="532" y="368">Q</text><text x="617" y="349">U</text><text x="617" y="368">V</text>
<text x="818" y="349">I</text><text x="818" y="368">Q</text><text x="903" y="349">U</text><text x="903" y="368">V</text>
<text x="1102" y="349">I</text><text x="1102" y="368">Q</text><text x="1187" y="349">U</text><text x="1187" y="368">V</text>
</g>

<!-- axis labels -->
<g font-size="15" text-anchor="end" fill="#000">
<text x="60" y="430">10<tspan font-size="11" dy="-7">−1</tspan></text>
<text x="60" y="529">10<tspan font-size="11" dy="-7">−2</tspan></text>
</g>
<g font-size="15" text-anchor="end" fill="#000">
<text x="59" y="650">150</text><text x="59" y="691">100</text><text x="59" y="732">50</text><text x="59" y="773">0</text>
<text x="59" y="814">−50</text><text x="59" y="855">−100</text><text x="59" y="897">−150</text>
</g>
<text transform="translate(16,473) rotate(-90)" font-size="15" text-anchor="middle">Normalized visibility amplitude</text>
<text transform="translate(16,771) rotate(-90)" font-size="15" text-anchor="middle">Visibility phase (deg)</text>

<g font-size="15" text-anchor="middle" fill="#000">
<text x="66.5" y="934">0</text><text x="126.9" y="934">2</text><text x="187.3" y="934">4</text><text x="247.7" y="934">6</text><text x="308.1" y="934">8</text>
<text x="350.5" y="934">0</text><text x="410.9" y="934">2</text><text x="471.3" y="934">4</text><text x="531.7" y="934">6</text><text x="592.1" y="934">8</text>
<text x="634.5" y="934">0</text><text x="694.9" y="934">2</text><text x="755.3" y="934">4</text><text x="815.7" y="934">6</text><text x="876.1" y="934">8</text>
<text x="918.5" y="934">0</text><text x="978.9" y="934">2</text><text x="1039.3" y="934">4</text><text x="1099.7" y="934">6</text><text x="1160.1" y="934">8</text>
</g>
<g font-size="14" text-anchor="middle" fill="#000">
<text x="206" y="952">(<tspan font-style="italic">u</tspan>, <tspan font-style="italic">v</tspan>)-distance (G<tspan font-style="italic">λ</tspan>)</text>
<text x="490" y="952">(<tspan font-style="italic">u</tspan>, <tspan font-style="italic">v</tspan>)-distance (G<tspan font-style="italic">λ</tspan>)</text>
<text x="774" y="952">(<tspan font-style="italic">u</tspan>, <tspan font-style="italic">v</tspan>)-distance (G<tspan font-style="italic">λ</tspan>)</text>
<text x="1058" y="952">(<tspan font-style="italic">u</tspan>, <tspan font-style="italic">v</tspan>)-distance (G<tspan font-style="italic">λ</tspan>)</text>
</g>
</svg>
</body></html>
